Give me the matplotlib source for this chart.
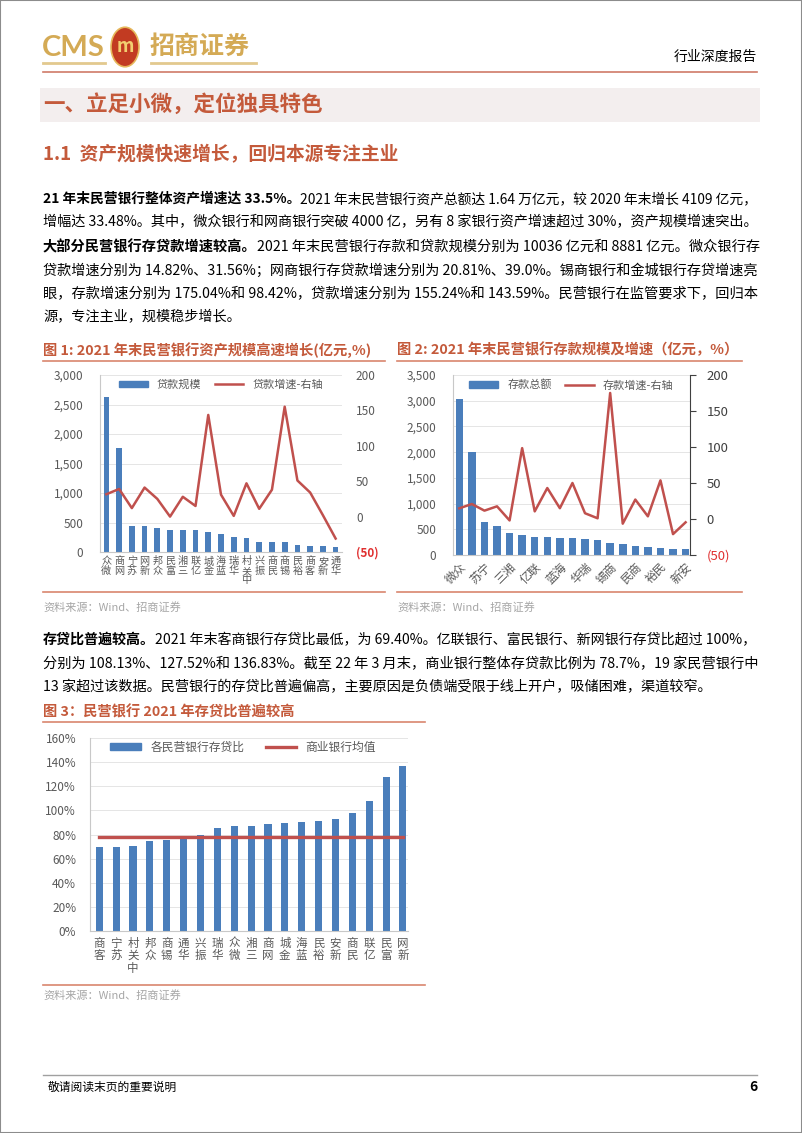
import numpy as np
import matplotlib
matplotlib.use('Agg')
import matplotlib.pyplot as plt
from matplotlib.patches import Rectangle, Circle, Patch
from matplotlib.lines import Line2D
from matplotlib.ticker import FuncFormatter, MultipleLocator

plt.rcParams['font.family'] = ['Noto Sans CJK SC', 'DejaVu Sans']

# ---- data ----
loan_banks = ['微众', '网商', '苏宁', '新网', '众邦', '富民', '三湘', '亿联', '金城', '蓝海',
              '华瑞', '中关村', '振兴', '民商', '锡商', '裕民', '客商', '新安', '华通']
loan_amt = [2634, 1760, 445, 434, 406, 372, 367, 367, 344, 299,
            254, 237, 164, 164, 164, 113, 96, 96, 85]
loan_growth = [31.56, 39.0, 12, 41, 25, 0, 28, 15, 143.59, 31,
               1, 47, 11, 38, 155.24, 51, 34, 2, -31]

dep_banks = ['微众', '网商', '苏宁', '新网', '三湘', '金城', '亿联', '众邦', '蓝海', '富民',
             '华瑞', '中关村', '锡商', '振兴', '民商', '客商', '裕民', '华通', '新安']
dep_amt = [3033, 1996, 648, 564, 428, 395, 356, 350, 337, 324,
           305, 298, 227, 214, 175, 149, 130, 123, 110]
dep_growth = [14.82, 20.81, 11.6, 17.6, -2, 98.42, 10.6, 43, 15, 50,
              8, 1, 175.04, -6.5, 27, 3.7, 53.7, -21, -4.6]

ldr_banks = ['客商', '苏宁', '中关村', '众邦', '锡商', '华通', '振兴', '华瑞', '微众', '三湘',
             '网商', '金城', '蓝海', '裕民', '新安', '民商', '亿联', '富民', '新网']
ldr = [69.40, 69.6, 70.8, 74.2, 75.3, 77.8, 79.6, 85.7, 86.8, 87.4,
       88.4, 89.8, 90.4, 91.2, 92.6, 97.9, 108.13, 127.52, 136.83]
ldr_avg = 78.0

BLUE = '#4a7ebb'
RED = '#c0504d'
HEAD = '#c45a3b'
SALMON = '#d9866e'
GOLD = '#d4aa55'
TICK = '#595959'

W, H = 802, 1133
fig = plt.figure(figsize=(W / 100, H / 100), dpi=100)
fig.patch.set_facecolor('white')
r = fig.canvas.get_renderer()


def put(x, y, s, size=10, color='black', weight='normal', ha='left', va='center', **kw):
    return fig.text(x / W, 1 - y / H, s, fontsize=size, color=color,
                    weight=weight, ha=ha, va=va, **kw)


def hline(x0, x1, y, color, lw=1.2):
    fig.add_artist(Line2D([x0 / W, x1 / W], [1 - y / H, 1 - y / H], color=color, lw=lw))


def para_line(y, parts, x0=43, x1=757, size=10.2, justify=True):
    objs = []
    x = x0
    for s, b in parts:
        t = put(x, y, s, size=size, weight='bold' if b else 'normal')
        x += t.get_window_extent(renderer=r).width
        objs.append(t)
    if justify:
        scale = (x1 - x0) / (x - x0)
        x = x0
        for t in objs:
            t.set_fontsize(size * scale)
            t.set_x(x / W)
            x += t.get_window_extent(renderer=r).width


def axes_px(x0, y0, x1, y1):
    return fig.add_axes([x0 / W, 1 - y1 / H, (x1 - x0) / W, (y1 - y0) / H])


def stack(name):
    return '\n'.join(reversed(name))


def right_fmt(v, p):
    return '(%d)' % abs(v) if v < 0 else '%d' % v


# ---- page frame / header ----
fig.add_artist(Rectangle((0, 0), 1, 1, transform=fig.transFigure, fill=False,
                         ec='#8c8c8c', lw=1.5))
put(42, 48, 'CMS', size=21, color=GOLD, weight='bold', family='Lato')
fig.add_artist(Circle((125 / W, 1 - 47 / H), 14 / W, transform=fig.transFigure,
                      fc='#c23b22', ec='#e6b85c', lw=1.2))
put(125, 47, 'm', size=13, color='#f2cf70', weight='bold', ha='center', style='italic')
put(150, 47, '招商证券', size=18, color=GOLD, weight='bold')
hline(43, 105, 63, '#e2c98e', 2)
hline(151, 256, 63, '#e2c98e', 2)
put(757, 57, '行业深度报告', size=10, ha='right')
hline(43, 757, 72, '#cf7a68', 1.2)

fig.add_artist(Rectangle((40 / W, 1 - 122 / H), 720 / W, 34 / H, transform=fig.transFigure,
                         fc='#f3eeee', ec='none'))
put(43, 104, '一、立足小微，定位独具特色', size=15.5, color=HEAD, weight='bold')
put(43, 155, '1.1  资产规模快速增长，回归本源专注主业', size=13.5, color=HEAD, weight='bold')

# ---- body text ----
para_line(199, [('21 年末民营银行整体资产增速达 33.5%。', True),
                ('2021 年末民营银行资产总额达 1.64 万亿元，较 2020 年末增长 4109 亿元，', False)])
para_line(222, [('增幅达 33.48%。其中，微众银行和网商银行突破 4000 亿，另有 8 家银行资产增速超过 30%，资产规模增速突出。', False)])
para_line(247, [('大部分民营银行存贷款增速较高。', True),
                ('2021 年末民营银行存款和贷款规模分别为 10036 亿元和 8881 亿元。微众银行存', False)])
para_line(271, [('贷款增速分别为 14.82%、31.56%；网商银行存贷款增速分别为 20.81%、39.0%。锡商银行和金城银行存贷增速亮', False)])
para_line(294, [('眼，存款增速分别为 175.04%和 98.42%，贷款增速分别为 155.24%和 143.59%。民营银行在监管要求下，回归本', False)])
para_line(317, [('源，专注主业，规模稳步增长。', False)], justify=False)

put(43, 350, '图 1: 2021 年末民营银行资产规模高速增长(亿元,%)', size=10.3, color=HEAD, weight='bold')
put(397, 350, '图 2: 2021 年末民营银行存款规模及增速（亿元，%）', size=10.3, color=HEAD, weight='bold')
hline(43, 385, 361, SALMON, 1.2)
hline(397, 742, 361, SALMON, 1.2)

# ---- chart 1 ----
ax1 = axes_px(100, 375, 342, 552)
x1 = np.arange(len(loan_banks))
ax1.bar(x1, loan_amt, width=0.45, color=BLUE, zorder=2)
ax1.set_ylim(0, 3000)
ax1.set_xlim(-0.5, len(loan_banks) - 0.5)
ax1.yaxis.set_major_locator(MultipleLocator(500))
ax1.yaxis.set_major_formatter(FuncFormatter(lambda v, p: f'{v:,.0f}'))
ax1.grid(axis='y', color='#e0e0e0', lw=0.6, zorder=0)
ax1.set_xticks(x1, [stack(b) for b in loan_banks], fontsize=7.3, linespacing=0.95)
ax1.tick_params(axis='y', length=0, colors=TICK, labelsize=8.5, pad=12)
ax1.tick_params(axis='x', length=0, colors=TICK, pad=3)
for s in ['top', 'right']:
    ax1.spines[s].set_visible(False)
for s in ['left', 'bottom']:
    ax1.spines[s].set_color('#c8c8c8')
ax1b = ax1.twinx()
ax1b.plot(x1, loan_growth, color=RED, lw=1.8)
ax1b.set_ylim(-50, 200)
ticks = [-50, 0, 50, 100, 150, 200]
ax1b.set_yticks(ticks, [right_fmt(t, 0) for t in ticks])
ax1b.tick_params(axis='y', length=0, colors=TICK, labelsize=8.5, pad=10)
ax1b.get_yticklabels()[0].set_color('#e03030')
ax1b.get_yticklabels()[0].set_fontweight('bold')
for s in ax1b.spines.values():
    s.set_visible(False)
ax1.legend([Patch(color=BLUE), Line2D([], [], color=RED, lw=1.8)], ['贷款规模', '贷款增速-右轴'],
           loc='upper center', bbox_to_anchor=(0.5, 1.03), ncol=2, frameon=False, fontsize=8,
           labelcolor=TICK, handlelength=2.6, handleheight=0.5, columnspacing=1.2)

# ---- chart 2 ----
ax2 = axes_px(453, 375, 690, 555)
x2 = np.arange(len(dep_banks))
ax2.bar(x2, dep_amt, width=0.6, color=BLUE, zorder=2)
ax2.set_ylim(0, 3500)
ax2.set_xlim(-0.5, len(dep_banks) - 0.65)
ax2.yaxis.set_major_locator(MultipleLocator(500))
ax2.yaxis.set_major_formatter(FuncFormatter(lambda v, p: f'{v:,.0f}'))
ax2.grid(axis='y', color='#e0e0e0', lw=0.6, zorder=0)
ax2.set_xticks(x2, [b if i % 2 == 0 else '' for i, b in enumerate(dep_banks)],
               fontsize=8.5, rotation=45, ha='right', rotation_mode='anchor')
ax2.tick_params(axis='y', length=0, colors=TICK, labelsize=8.5, pad=12)
ax2.tick_params(axis='x', length=0, colors=TICK, pad=4)
ax2.spines['top'].set_visible(False)
ax2.spines['right'].set_visible(False)
for s in ['left', 'bottom']:
    ax2.spines[s].set_color('#c8c8c8')
ax2b = ax2.twinx()
ax2b.plot(x2, dep_growth, color=RED, lw=1.8)
ax2b.set_ylim(-50, 200)
ax2b.set_yticks(ticks, [right_fmt(t, 0) for t in ticks])
ax2b.tick_params(axis='y', length=4, width=0.8, colors='#404040', labelsize=9.5, pad=8)
ax2b.get_yticklabels()[0].set_color('#e03030')
for s in ['top', 'left', 'bottom']:
    ax2b.spines[s].set_visible(False)
ax2b.spines['right'].set_color('#404040')
ax2.legend([Patch(color=BLUE), Line2D([], [], color=RED, lw=1.8)], ['存款总额', '存款增速-右轴'],
           loc='upper center', bbox_to_anchor=(0.5, 1.03), ncol=2, frameon=False, fontsize=8,
           labelcolor=TICK, handlelength=2.6, handleheight=0.5, columnspacing=1.2)

hline(43, 385, 592, SALMON, 1.2)
hline(397, 742, 592, SALMON, 1.2)
put(43, 607, '资料来源：Wind、招商证券', size=8, color='#a6a6a6')
put(397, 607, '资料来源：Wind、招商证券', size=8, color='#a6a6a6')

# ---- paragraph 3 ----
para_line(640, [('存贷比普遍较高。', True),
                ('2021 年末客商银行存贷比最低，为 69.40%。亿联银行、富民银行、新网银行存贷比超过 100%，', False)])
para_line(664, [('分别为 108.13%、127.52%和 136.83%。截至 22 年 3 月末，商业银行整体存贷款比例为 78.7%，19 家民营银行中', False)])
para_line(687, [('13 家超过该数据。民营银行的存贷比普遍偏高，主要原因是负债端受限于线上开户，吸储困难，渠道较窄。', False)],
          justify=False)

put(43, 712, '图 3：民营银行 2021 年存贷比普遍较高', size=10.3, color=HEAD, weight='bold')
hline(43, 425, 722, SALMON, 1.2)

# ---- chart 3 ----
ax3 = axes_px(90, 738, 408, 931)
x3 = np.arange(len(ldr_banks))
ax3.bar(x3, ldr, width=0.42, color=BLUE, zorder=2)
ax3.plot(x3, [ldr_avg] * len(x3), color=RED, lw=2.4, zorder=3)
ax3.set_ylim(0, 160)
ax3.set_xlim(-0.55, len(ldr_banks) - 0.7)
ax3.yaxis.set_major_locator(MultipleLocator(20))
ax3.yaxis.set_major_formatter(FuncFormatter(lambda v, p: '%d%%' % v))
ax3.grid(axis='y', color='#e0e0e0', lw=0.6, zorder=0)
ax3.set_xticks(x3, [stack(b) for b in ldr_banks], fontsize=8.3, linespacing=0.95)
ax3.tick_params(axis='y', length=0, colors=TICK, labelsize=8.5, pad=10)
ax3.tick_params(axis='x', length=0, colors=TICK, pad=4)
for s in ['top', 'right']:
    ax3.spines[s].set_visible(False)
for s in ['left', 'bottom']:
    ax3.spines[s].set_color('#c8c8c8')
ax3.legend([Patch(color=BLUE), Line2D([], [], color=RED, lw=2.4)], ['各民营银行存贷比', '商业银行均值'],
           loc='upper left', bbox_to_anchor=(0.03, 1.04), ncol=2, frameon=False, fontsize=8.5,
           labelcolor=TICK, handlelength=2.6, handleheight=0.5, columnspacing=1.8)

hline(43, 425, 985, SALMON, 1.2)
put(43, 995, '资料来源：Wind、招商证券', size=8, color='#a6a6a6')

# ---- footer ----
hline(43, 757, 1075, '#a0a0a0', 1.0)
put(48, 1087, '敬请阅读末页的重要说明', size=8.5)
put(757, 1087, '6', size=10, weight='bold', ha='right')

fig.savefig('out.png', dpi=100)
